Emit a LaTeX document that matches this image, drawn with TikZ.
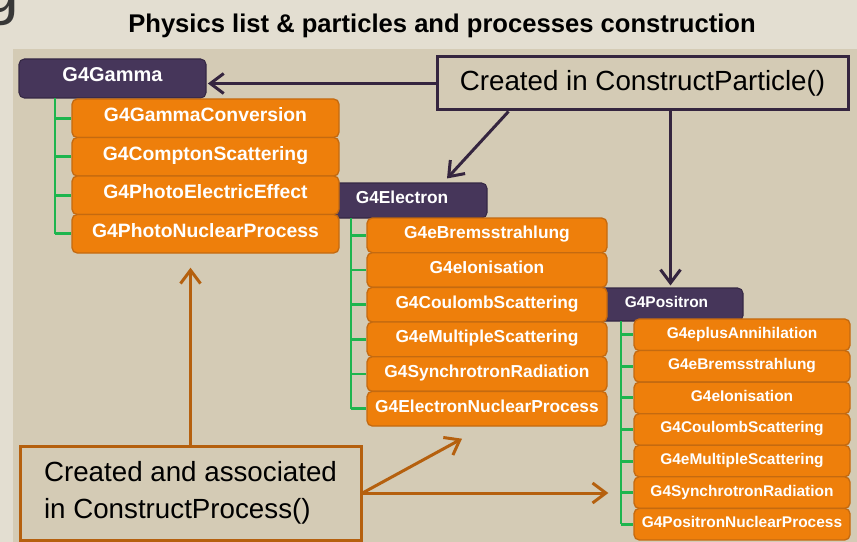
\documentclass[tikz,border=0pt]{standalone}
\usepackage{fontspec}
\setmainfont{Liberation Sans}
\usetikzlibrary{positioning,arrows.meta}
\definecolor{outerbg}{HTML}{E3DED1}
\definecolor{panelbg}{HTML}{D4CBB5}
\definecolor{hdrpurple}{HTML}{46365A}
\definecolor{procorange}{HTML}{EE7F0B}
\definecolor{procedge}{HTML}{C46A10}
\definecolor{treegreen}{HTML}{1EB54E}
\definecolor{notedark}{HTML}{35253F}
\definecolor{notebrown}{HTML}{B5600E}

\begin{document}
\begin{tikzpicture}[x=0.75pt,y=-0.75pt,
	header/.style={fill=hdrpurple, draw=hdrpurple!75!black, line width=0.8pt, rounded corners=4pt, text=white, inner sep=0pt, text height=0.72em, text depth=0.2em},
	proc/.style={fill=procorange, draw=procedge, line width=1pt, rounded corners=4pt, text=white, inner sep=0pt, text height=0.72em, text depth=0.2em},
	tree/.style={draw=treegreen, line width=2.2pt},
	note/.style={line width=2.25pt, fill=panelbg, inner sep=0pt, text=black, font=\fontsize{20.8}{27.5}\selectfont},
	darrow/.style={draw=notedark, line width=2.25pt, -{Straight Barb[length=10pt,width=15pt]}},
	barrow/.style={draw=notebrown, line width=2.25pt, -{Straight Barb[length=10pt,width=15pt]}}]
	\useasboundingbox[fill=outerbg] (0,0) rectangle (857,542);
	\fill[panelbg] (13,49) rectangle (857,542);
	\node[font=\fontsize{48}{48}\selectfont, text=black!78, anchor=base east, inner sep=0pt] (gcut) at (19,13) {g};
	\node[font=\fontsize{19.2}{23}\selectfont\bfseries, anchor=base] (title) at (442,33) {Physics list \& particles and processes construction};

	% particle headers, back to front
	\node[header, minimum width=114.75pt, minimum height=24.75pt, font=\fontsize{11.6}{14}\selectfont\bfseries] (posi) at (666.5,304.5) {G4Positron};
	\node[header, minimum width=127.5pt, minimum height=26.25pt, font=\fontsize{13}{15}\selectfont\bfseries] (elec) at (402,200.5) {G4Electron};
	\node[header, minimum width=140.25pt, minimum height=29.25pt, font=\fontsize{15}{18}\selectfont\bfseries] (gamma) at (112.5,78.5) {G4Gamma};

	% processes
	\foreach \proc [count=\i] in {G4GammaConversion,G4ComptonScattering,G4PhotoElectricEffect,G4PhotoNuclearProcess}
		\node[proc, minimum width=200.25pt, minimum height=28.9pt, font=\fontsize{14.5}{17}\selectfont\bfseries] (gam-\i) at (205.5,{79.75+38.5*\i}) {\proc};
	\foreach \proc [count=\i] in {G4eBremsstrahlung,G4eIonisation,G4CoulombScattering,G4eMultipleScattering,G4SynchrotronRadiation,G4ElectronNuclearProcess}
		\node[proc, minimum width=180pt, minimum height=26pt, font=\fontsize{13}{15}\selectfont\bfseries] (ele-\i) at (487,{200.67+34.67*\i}) {\proc};
	\foreach \proc [count=\i] in {G4eplusAnnihilation,G4eBremsstrahlung,G4eIonisation,G4CoulombScattering,G4eMultipleScattering,G4SynchrotronRadiation,G4PositronNuclearProcess}
		\node[proc, minimum width=162pt, minimum height=23.7pt, font=\fontsize{11.6}{14}\selectfont\bfseries] (pos-\i) at (742,{303.2+31.57*\i}) {\proc};

	% green trees
	\coordinate (gamtrunk) at (55,98);
	\coordinate (eletrunk) at (351,218);
	\coordinate (postrunk) at (621,321);
	\draw[tree] (gamtrunk) -- (gamtrunk |- gam-4.west);
	\foreach \i in {1,...,4} \draw[tree] (gamtrunk |- gam-\i.west) -- (gam-\i.west);
	\draw[tree] (eletrunk) -- (eletrunk |- ele-6.west);
	\foreach \i in {1,...,6} \draw[tree] (eletrunk |- ele-\i.west) -- (ele-\i.west);
	\draw[tree] (postrunk) -- (postrunk |- pos-7.west);
	\foreach \i in {1,...,7} \draw[tree] (postrunk |- pos-\i.west) -- (pos-\i.west);

	% callouts
	\node[note, draw=notedark, minimum width=308.25pt, minimum height=39.75pt] (partnote) at (642.5,83.5) {Created in ConstructParticle()};
	\node[note, draw=notebrown, minimum width=255.75pt, minimum height=70.5pt, align=left] (procnote) at (190.5,493) {Created and associated\\in ConstructProcess()};

	\coordinate (elecfoot) at ([xshift=54.75pt]partnote.south west);
	\coordinate (posifoot) at ([xshift=176.25pt]partnote.south west);
	\draw[darrow, shorten >=1pt] (partnote.west) -- (partnote.west -| gamma.east);
	\draw[darrow] (elecfoot) -- ([xshift=33.75pt,yshift=3pt]elec.north);
	\draw[darrow, shorten >=1.5pt] (posifoot) -- (posifoot |- posi.north);

	\draw[barrow] (procnote.north) -- ([yshift=-10.5pt]procnote.north |- gam-4.south);
	\draw[barrow] (procnote.east) -- ([xshift=-18.75pt,yshift=-9pt]ele-6.south);
	\draw[barrow] (procnote.east) -- ([xshift=-18.75pt]procnote.east -| pos-1.west);
\end{tikzpicture}
\end{document}
